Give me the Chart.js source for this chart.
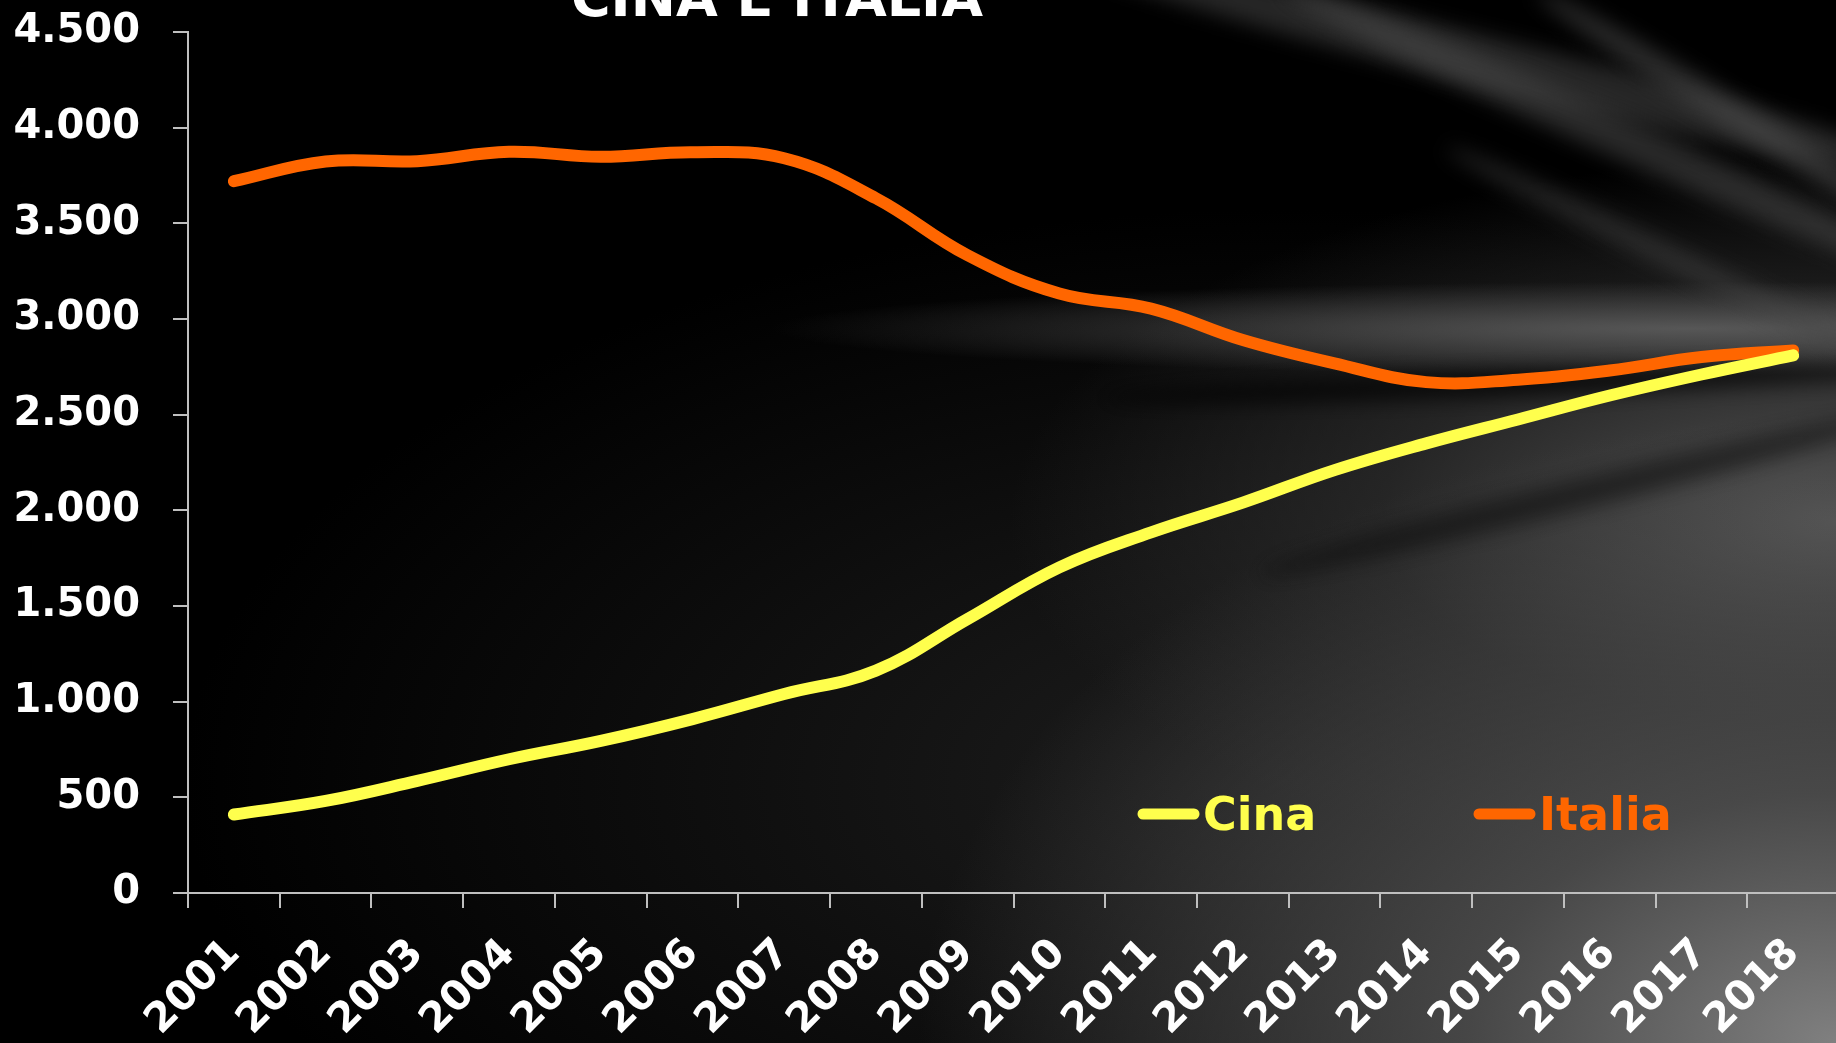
<!DOCTYPE html>
<html>
<head>
<meta charset="utf-8">
<script src="https://cdn.jsdelivr.net/npm/chart.js@4/dist/chart.umd.min.js"></script>
<style>
  html, body { margin: 0; padding: 0; overflow: hidden; background: #000; }
  #wrap {
    position: relative; width: 1836px; height: 1043px; overflow: hidden;
    background:
      radial-gradient(ellipse 50% 60% at 100% 100%, rgba(128,128,128,1) 0%, rgba(80,80,80,0.85) 40%, rgba(30,30,30,0) 100%),
      radial-gradient(ellipse 50% 4.5% at 92% 31.5%, rgba(100,100,100,0.8), rgba(0,0,0,0) 100%),
      radial-gradient(ellipse 45% 35% at 100% 50%, rgba(85,85,85,1) 0%, rgba(45,45,45,0.75) 55%, rgba(0,0,0,0) 100%),
      radial-gradient(ellipse 60% 55% at 70% 75%, rgba(30,30,30,1) 0%, rgba(0,0,0,0) 100%),
      #000;
  }
  .streak { position: absolute; border-radius: 50%; filter: blur(10px); }
  canvas { position: relative; display: block; }
</style>
</head>
<body>
<div id="wrap">
  <div class="streak" style="left:1050px;top:40px;width:900px;height:50px;transform:rotate(14deg);background:rgba(70,70,70,0.55)"></div>
  <div class="streak" style="left:1250px;top:120px;width:750px;height:40px;transform:rotate(24deg);background:rgba(80,80,80,0.5)"></div>
  <div class="streak" style="left:1500px;top:110px;width:500px;height:30px;transform:rotate(32deg);background:rgba(85,85,85,0.5)"></div>
  <div class="streak" style="left:1420px;top:250px;width:520px;height:24px;transform:rotate(26deg);background:rgba(70,70,70,0.5)"></div>
  <div class="streak" style="left:1100px;top:372px;width:800px;height:24px;transform:rotate(-2deg);background:rgba(0,0,0,0.75)"></div>
  <div class="streak" style="left:1250px;top:480px;width:650px;height:30px;transform:rotate(-14deg);background:rgba(10,10,10,0.55)"></div>
  <canvas id="myChart" width="1840" height="1043"></canvas>
</div>
<script>
// data
var anni = ["2001", "2002", "2003", "2004", "2005", "2006", "2007", "2008", "2009",
            "2010", "2011", "2012", "2013", "2014", "2015", "2016", "2017", "2018"];
var cina = [410, 481, 586, 699, 795, 909, 1040, 1162, 1432, 1702, 1885, 2040, 2210, 2350, 2475, 2600, 2710, 2810];
var italia = [3720, 3823, 3825, 3874, 3848, 3872, 3840, 3631, 3333, 3133, 3054, 2890, 2768, 2670, 2683, 2731, 2801, 2836];
var yTicks = [0, 500, 1000, 1500, 2000, 2500, 3000, 3500, 4000, 4500];

var FONT = "'DejaVu Sans', sans-serif";

// title + legend drawn inside the plot
var decorations = {
  id: "decorations",
  afterDraw: function (chart) {
    var ctx = chart.ctx;
    ctx.save();
    ctx.fillStyle = "#fff";
    ctx.font = "bold 54px " + FONT;
    ctx.textAlign = "center";
    ctx.textBaseline = "alphabetic";
    ctx.fillText("CINA E ITALIA", 777, 16);

    ctx.font = "bold 46px " + FONT;
    ctx.textAlign = "left";
    var x = 1143;
    chart.data.datasets.forEach(function (ds) {
      ctx.strokeStyle = ds.borderColor;
      ctx.lineWidth = 11;
      ctx.lineCap = "round";
      ctx.beginPath();
      ctx.moveTo(x, 814);
      ctx.lineTo(x + 51, 814);
      ctx.stroke();
      ctx.fillStyle = ds.borderColor;
      ctx.fillText(ds.label, x + 60, 830);
      x += 336;
    });
    ctx.restore();
  }
};

new Chart("myChart", {
  type: "line",
  data: {
    labels: anni,
    datasets: [{
      label: "Cina",
      data: cina,
      borderColor: "#FFFF4D",
      borderWidth: 12,
      borderCapStyle: "round",
      tension: 0.4,
      pointRadius: 0,
      fill: false
    }, {
      label: "Italia",
      data: italia,
      borderColor: "#FF6600",
      borderWidth: 12,
      borderCapStyle: "round",
      tension: 0.4,
      pointRadius: 0,
      fill: false
    }]
  },
  options: {
    responsive: false,
    animation: false,
    layout: { padding: { top: 32, right: 1, left: 0, bottom: 0 } },
    plugins: {
      legend: { display: false },
      title: { display: false },
      tooltip: { enabled: false }
    },
    scales: {
      x: {
        offset: true,
        afterFit: function (s) { s.height = 150; s.paddingLeft = 0; s.paddingRight = 0; },
        grid: { offset: true, drawOnChartArea: false, drawTicks: true, tickLength: 15, color: "#bfbfbf", lineWidth: 2 },
        border: { color: "#bfbfbf", width: 2 },
        ticks: {
          color: "#fff",
          maxRotation: 45,
          minRotation: 45,
          autoSkip: false,
          padding: 22,
          font: { family: FONT, size: 41, weight: "bold" }
        }
      },
      y: {
        min: 0,
        max: 4500,
        afterFit: function (s) { s.width = 188; s.paddingTop = 0; s.paddingBottom = 0; },
        afterBuildTicks: function (s) { s.ticks = yTicks.map(function (v) { return { value: v }; }); },
        grid: { drawOnChartArea: false, drawTicks: true, tickLength: 15, color: "#bfbfbf", lineWidth: 2 },
        border: { color: "#bfbfbf", width: 2 },
        ticks: {
          color: "#fff",
          padding: 33,
          font: { family: FONT, size: 40, weight: "bold" },
          callback: function (v) { return v.toLocaleString("it-IT"); }
        }
      }
    }
  },
  plugins: [decorations]
});
</script>
</body>
</html>
